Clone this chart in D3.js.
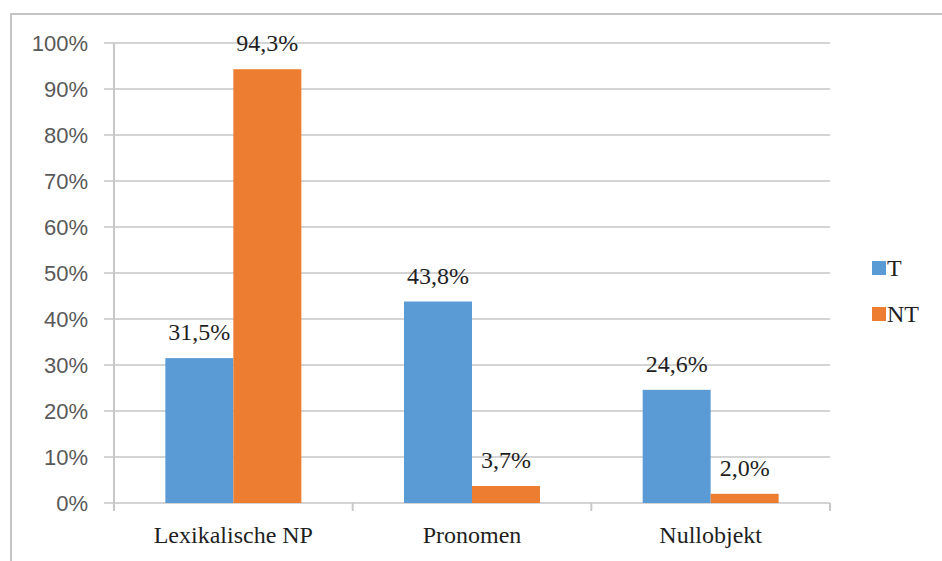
<!DOCTYPE html>
<html>
<head>
<meta charset="utf-8">
<script src="https://cdn.jsdelivr.net/npm/d3@7"></script>
<style>
	body { margin: 0; background: #fff; }
	svg { display: block; }
	.serif { font-family: "Liberation Serif", "Times New Roman", "DejaVu Serif", serif; }
	.sans { font-family: "Liberation Sans", Arial, sans-serif; }
</style>
</head>
<body>
<div id="chart"></div>
<script>

const categories = ["Lexikalische NP", "Pronomen", "Nullobjekt"]
const seriesNames = ["T", "NT"]
const valuesT = [31.5, 43.8, 24.6]
const valuesNT = [94.3, 3.7, 2.0]
const yTicks = [0, 10, 20, 30, 40, 50, 60, 70, 80, 90, 100]
const colors = ["#5b9bd5", "#ed7d31"]

const width = 942
const height = 561
const plot = { left: 114, right: 830, top: 43, bottom: 503 }

const svg = d3.select("#chart").append("svg")
	.attr("width", width)
	.attr("height", height)

// outer frame (only top and left edges are visible in the crop)
svg.append("rect")
	.attr("x", 11)
	.attr("y", 14)
	.attr("width", width + 20)
	.attr("height", height + 20)
	.attr("fill", "none")
	.attr("stroke", "#c4c4c4")
	.attr("stroke-width", 2)

const x = d3.scaleBand()
	.domain(categories)
	.range([plot.left, plot.right])
	.paddingInner(0)
	.paddingOuter(0)

const xInner = d3.scaleBand()
	.domain(seriesNames)
	.range([0, x.bandwidth()])
	.paddingOuter(0.755)
	.paddingInner(0)

const y = d3.scaleLinear()
	.domain([0, 100])
	.range([plot.bottom, plot.top])

// gridlines
svg.append("g")
	.selectAll("line")
	.data(yTicks)
	.join("line")
	.attr("x1", plot.left - 10)
	.attr("x2", plot.right)
	.attr("y1", d => y(d))
	.attr("y2", d => y(d))
	.attr("stroke", "#d4d4d4")
	.attr("stroke-width", 2)

// y tick labels
svg.append("g")
	.selectAll("text")
	.data(yTicks)
	.join("text")
	.attr("class", "sans")
	.attr("x", 88)
	.attr("y", d => y(d))
	.attr("dy", "0.36em")
	.attr("text-anchor", "end")
	.attr("font-size", 22)
	.attr("fill", "#595959")
	.text(d => d + "%")

// y axis line
svg.append("line")
	.attr("x1", plot.left)
	.attr("x2", plot.left)
	.attr("y1", plot.top)
	.attr("y2", plot.bottom + 8)
	.attr("stroke", "#c8c8c8")
	.attr("stroke-width", 2)

// x axis ticks
svg.append("g")
	.selectAll("line")
	.data(categories.concat(["end"]))
	.join("line")
	.attr("x1", (d, i) => i < categories.length ? x(d) : plot.right)
	.attr("x2", (d, i) => i < categories.length ? x(d) : plot.right)
	.attr("y1", plot.bottom)
	.attr("y2", plot.bottom + 8)
	.attr("stroke", "#c8c8c8")
	.attr("stroke-width", 2)

const rows = categories.map((c, i) => ({
	category: c,
	items: [
		{ series: "T", value: valuesT[i], color: colors[0] },
		{ series: "NT", value: valuesNT[i], color: colors[1] }
	]
}))

const groups = svg.append("g")
	.selectAll("g")
	.data(rows)
	.join("g")
	.attr("transform", d => `translate(${x(d.category)},0)`)

groups.selectAll("rect")
	.data(d => d.items)
	.join("rect")
	.attr("x", d => xInner(d.series))
	.attr("y", d => y(d.value))
	.attr("width", xInner.bandwidth())
	.attr("height", d => y(0) - y(d.value))
	.attr("fill", d => d.color)

// data labels
groups.selectAll("text")
	.data(d => d.items)
	.join("text")
	.attr("class", "serif")
	.attr("x", d => xInner(d.series) + xInner.bandwidth() / 2)
	.attr("y", d => y(d.value) - 18)
	.attr("text-anchor", "middle")
	.attr("font-size", 24)
	.attr("fill", "#1f1f1f")
	.text(d => d.value.toFixed(1).replace(".", ",") + "%")

// category labels
svg.append("g")
	.selectAll("text")
	.data(categories)
	.join("text")
	.attr("class", "serif")
	.attr("x", d => x(d) + x.bandwidth() / 2)
	.attr("y", 543)
	.attr("text-anchor", "middle")
	.attr("font-size", 24)
	.attr("fill", "#1f1f1f")
	.text(d => d)

// legend
const legend = svg.append("g")
	.selectAll("g")
	.data(seriesNames)
	.join("g")
	.attr("transform", (d, i) => `translate(872, ${268 + i * 46})`)

legend.append("rect")
	.attr("x", 0)
	.attr("y", -7)
	.attr("width", 14)
	.attr("height", 14)
	.attr("fill", (d, i) => colors[i])

legend.append("text")
	.attr("class", "serif")
	.attr("x", 15)
	.attr("y", 0)
	.attr("dy", "0.35em")
	.attr("font-size", 24)
	.attr("fill", "#1f1f1f")
	.text(d => d)

</script>
</body>
</html>
